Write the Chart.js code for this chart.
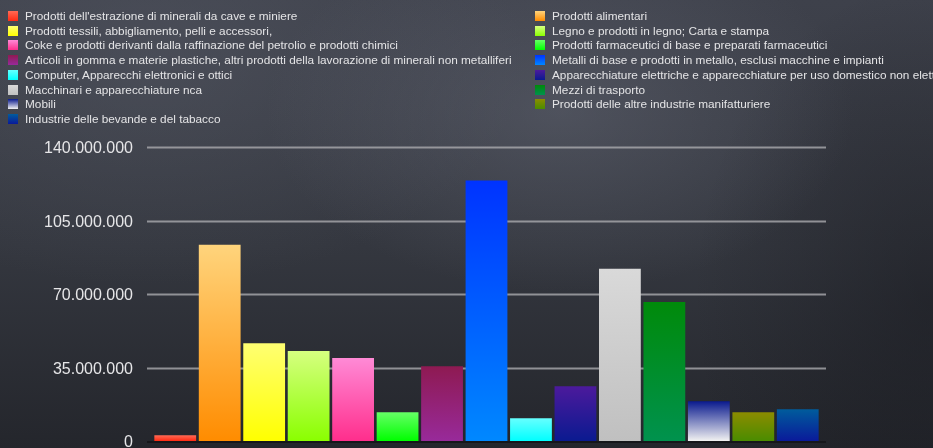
<!DOCTYPE html>
<html>
<head>
<meta charset="utf-8">
<script src="https://cdn.jsdelivr.net/npm/chart.js@4"></script>
<style>
  html, body { margin: 0; padding: 0; }
  body {
    width: 933px; height: 448px; overflow: hidden; position: relative;
    background:
      radial-gradient(ellipse 420px 260px at 560px 110px, rgba(110,114,128,0.4), rgba(110,114,128,0) 70%),
      radial-gradient(ellipse 500px 300px at 150px 60px, rgba(90,94,106,0.45), rgba(90,94,106,0) 75%),
      radial-gradient(ellipse 300px 400px at 933px 300px, rgba(20,21,26,0.45), rgba(20,21,26,0) 80%),
      linear-gradient(180deg, #3e414b 0%, #34373f 55%, #24262c 100%);
    font-family: "Liberation Sans", Helvetica, Arial, sans-serif;
  }
  #chart { position: absolute; left: 0; top: 0; }
  #legend { position: absolute; left: 0; top: 0; width: 933px; height: 130px; }
  .item { position: absolute; white-space: nowrap; color: #e4e4e6; font-size: 11.8px; line-height: 14px; }
  .box { position: absolute; width: 10px; height: 10px; top: 2px; }
</style>
</head>
<body>
<canvas id="chart" width="933" height="448"></canvas>
<div id="legend"></div>
<script>
const categories = [
  "Prodotti dell'estrazione di minerali da cave e miniere",
  "Prodotti alimentari",
  "Prodotti tessili, abbigliamento, pelli e accessori,",
  "Legno e prodotti in legno; Carta e stampa",
  "Coke e prodotti derivanti dalla raffinazione del petrolio e prodotti chimici",
  "Prodotti farmaceutici di base e preparati farmaceutici",
  "Articoli in gomma e materie plastiche, altri prodotti della lavorazione di minerali non metalliferi",
  "Metalli di base e prodotti in metallo, esclusi macchine e impianti",
  "Computer, Apparecchi elettronici e ottici",
  "Apparecchiature elettriche e apparecchiature per uso domestico non elettriche",
  "Macchinari e apparecchiature nca",
  "Mezzi di trasporto",
  "Mobili",
  "Prodotti delle altre industrie manifatturiere",
  "Industrie delle bevande e del tabacco"
];
const values = [2700000, 93400000, 46600000, 42800000, 39500000, 13700000, 35600000, 124000000,
  10800000, 26100000, 82000000, 66200000, 18900000, 13700000, 15100000];
const yTicks = [0, 35000000, 70000000, 105000000, 140000000];

const topColors = ["#ff6a55", "#ffd47c", "#ffff72", "#d6ff80", "#ff8ad6", "#66ff66", "#8e1a52",
  "#0033ff", "#66ffff", "#4c1a9c", "#d9d9d9", "#008a0a", "#0a1a8e", "#8c8c00", "#005c9c"];
const bottomColors = ["#ff2a12", "#ff8c00", "#ffff00", "#8aff00", "#ff2e8c", "#00ff00", "#982a9a",
  "#0088ff", "#00ffff", "#0a1a90", "#c0c0c0", "#00924e", "#f2f2f2", "#4a8c00", "#0a1a9a"];

function fmt(v) {
  return String(v).replace(/\B(?=(\d{3})+(?!\d))/g, ".");
}

// legend in two columns, row-major order
const legend = document.getElementById("legend");
categories.forEach((c, i) => {
  const col = i % 2, row = Math.floor(i / 2);
  const d = document.createElement("div");
  d.className = "item";
  d.style.left = (col ? 552 : 25) + "px";
  d.style.top = (9 + row * 14.7) + "px";
  const b = document.createElement("span");
  b.className = "box";
  b.style.left = "-17px";
  b.style.background = "linear-gradient(" + topColors[i] + "," + bottomColors[i] + ")";
  d.appendChild(b);
  d.appendChild(document.createTextNode(c));
  legend.appendChild(d);
});

// gridlines a bit wider than the bar area, plus dark base line
const gridPlugin = {
  id: "grid",
  beforeDatasetsDraw(chart) {
    const { ctx, chartArea, scales } = chart;
    ctx.save();
    yTicks.forEach(t => {
      if (t === 0) return;
      const y = Math.round(scales.y.getPixelForValue(t)) + 0.5;
      ctx.strokeStyle = "rgba(170,170,174,0.8)";
      ctx.lineWidth = 2;
      ctx.beginPath();
      ctx.moveTo(chartArea.left - 6, y);
      ctx.lineTo(chartArea.right + 6, y);
      ctx.stroke();
    });
    const y0 = scales.y.getPixelForValue(0);
    ctx.strokeStyle = "#16171b";
    ctx.lineWidth = 2;
    ctx.beginPath();
    ctx.moveTo(chartArea.left - 6, y0 + 1);
    ctx.lineTo(chartArea.right + 6, y0 + 1);
    ctx.stroke();
    ctx.restore();
  }
};

const ctx = document.getElementById("chart").getContext("2d");
const chart = new Chart(ctx, {
  type: "bar",
  data: {
    labels: categories,
    datasets: [{
      data: values,
      borderWidth: 0,
      barPercentage: 0.94,
      categoryPercentage: 1,
      backgroundColor: (c) => {
        const ch = c.chart;
        const i = c.dataIndex;
        if (!ch.chartArea || i === undefined) return bottomColors[i || 0];
        const top = ch.scales.y.getPixelForValue(values[i]);
        const bottom = ch.scales.y.getPixelForValue(0);
        const g = ch.ctx.createLinearGradient(0, top, 0, bottom);
        g.addColorStop(0, topColors[i]);
        g.addColorStop(1, bottomColors[i]);
        return g;
      }
    }]
  },
  options: {
    responsive: false,
    animation: false,
    layout: { padding: { top: 147, right: 113, bottom: 7, left: 0 } },
    plugins: {
      legend: { display: false },
      tooltip: { enabled: false }
    },
    scales: {
      x: { display: false },
      y: {
        min: 0,
        max: 140000000,
        afterFit: (s) => { s.width = 153; s.paddingTop = 0; s.paddingBottom = 0; },
        afterBuildTicks: (s) => { s.ticks = yTicks.map(v => ({ value: v })); },
        grid: { display: false, drawTicks: false },
        border: { display: false },
        ticks: {
          padding: 20,
          labelOffset: 2,
          color: "#e6e6e8",
          font: { family: "Liberation Sans", size: 16 },
          callback: (v) => fmt(v)
        }
      }
    }
  },
  plugins: [gridPlugin]
});
</script>
</body>
</html>
